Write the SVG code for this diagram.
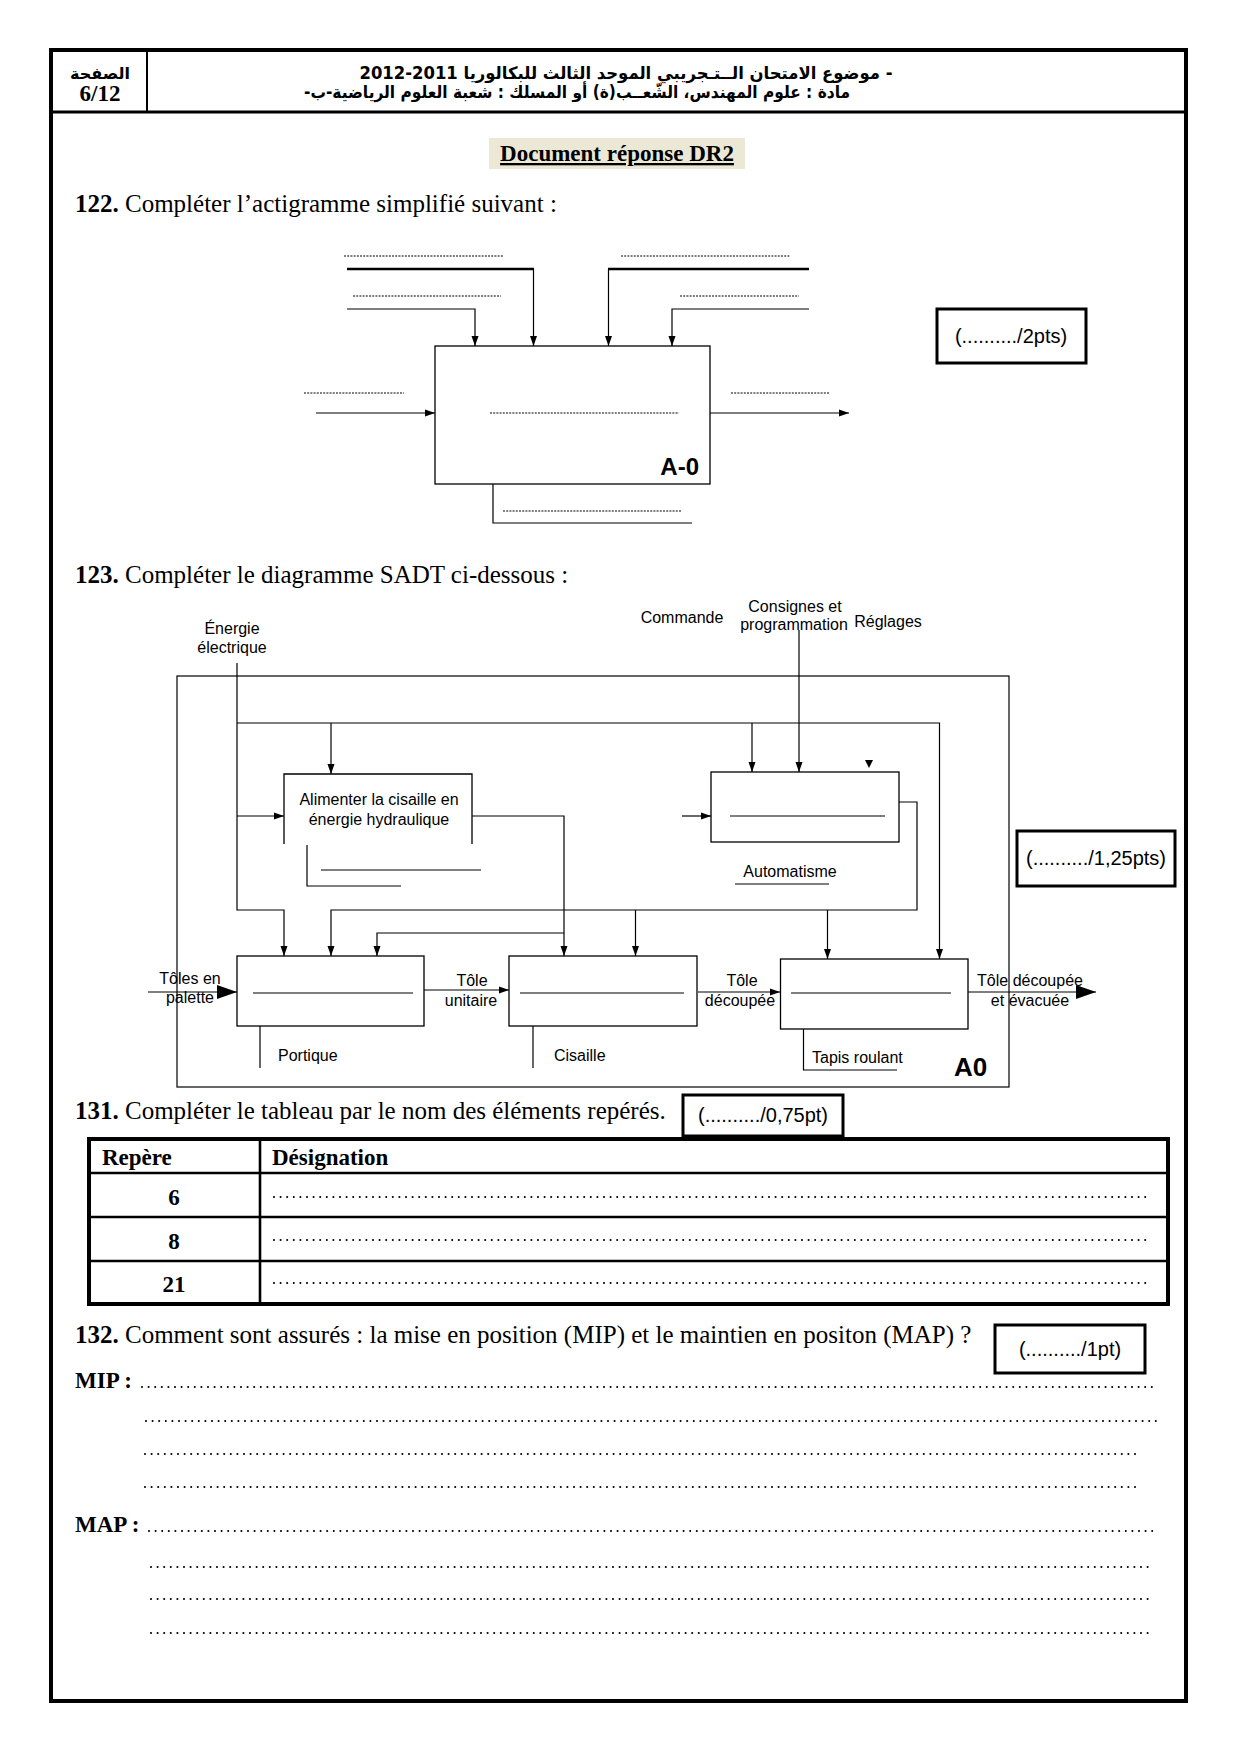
<svg xmlns="http://www.w3.org/2000/svg" width="1240" height="1754" viewBox="0 0 1240 1754">
<defs>
<style>
.ln{fill:none;stroke:#000;stroke-width:1.2}
.thk{fill:none;stroke:#000;stroke-width:2.6}
.dot{fill:none;stroke:#000;stroke-width:1;stroke-dasharray:2 1.2}
.lead{fill:none;stroke:#000;stroke-width:2.1;stroke-linecap:round;stroke-dasharray:0 6.6}
.box{fill:#fff;stroke:#000;stroke-width:1.3}
.q{font-family:"Liberation Serif","Times New Roman",serif;font-size:25px;fill:#000}
.lbl{font-family:"Liberation Sans",Arial,sans-serif;font-size:16px;fill:#000}
.sc{font-family:"Liberation Sans",Arial,sans-serif;font-size:20px;fill:#000}
.score{fill:#fff;stroke:#000;stroke-width:3}
.ar{font-family:"DejaVu Sans","Noto Sans",sans-serif;font-weight:bold;fill:#000}
.tb{font-family:"Liberation Serif","Times New Roman",serif;font-size:23px;font-weight:bold;fill:#000}
</style>
<marker id="a" markerUnits="userSpaceOnUse" markerWidth="10" markerHeight="8" refX="10" refY="4" orient="auto"><path d="M0,0.5 L10,4 L0,7.5z" fill="#000"/></marker>
<marker id="at" markerUnits="userSpaceOnUse" markerWidth="20" markerHeight="14" refX="20" refY="7" orient="auto"><path d="M0,0 L20,7 L0,14z" fill="#000"/></marker>
</defs>
<rect x="0" y="0" width="1240" height="1754" fill="#fff"/>

<g id="page-frame">
<rect x="51" y="50" width="1135" height="1651" fill="none" stroke="#000" stroke-width="4"/>
<line x1="51" y1="112" x2="1186" y2="112" stroke="#000" stroke-width="3"/>
<line x1="147" y1="50" x2="147" y2="112" stroke="#000" stroke-width="2"/>
</g>

<g id="header">
<text class="ar" x="100" y="79" font-size="16" text-anchor="middle" direction="rtl">الصفحة</text>
<text class="tb" x="100" y="101" font-size="20" text-anchor="middle">6/12</text>
<text class="ar" x="626" y="79" font-size="17" text-anchor="middle" direction="rtl" textLength="533" lengthAdjust="spacingAndGlyphs">- موضوع الامتحان الــتـجريبي الموحد الثالث للبكالوريا  2011-2012</text>
<text class="ar" x="577" y="98" font-size="17" text-anchor="middle" direction="rtl" textLength="546" lengthAdjust="spacingAndGlyphs">مادة : علوم المهندس، الشّعــب(ة) أو المسلك : شعبة العلوم الرياضية-ب-</text>
</g>

<g id="title">
<rect x="489" y="138" width="256" height="31" fill="#ebe8d6"/>
<text class="tb" x="617" y="161" font-size="25" text-anchor="middle" text-decoration="underline">Document réponse DR2</text>
</g>

<text class="q" x="75" y="212"><tspan font-weight="bold">122.</tspan> Compléter l’actigramme simplifié suivant :</text>

<g id="score-2pts">
<rect class="score" x="937" y="309" width="149" height="54"/>
<text class="sc" x="1011" y="343" text-anchor="middle">(........../2pts)</text>
</g>

<g id="actigramme-A-0">
<rect class="box" x="435" y="346" width="275" height="138"/>
<text x="699" y="475" text-anchor="end" font-family="Liberation Sans, Arial, sans-serif" font-weight="bold" font-size="24">A-0</text>
<line class="dot" x1="490" y1="413" x2="679" y2="413"/>
</g>

<g id="actigramme-connectors">
<line class="thk" x1="347" y1="269" x2="534" y2="269"/>
<path class="ln" d="M533.5,269 V346" marker-end="url(#a)"/>
<path class="ln" d="M347,309 H475 V346" marker-end="url(#a)"/>
<line class="thk" x1="608" y1="269" x2="809" y2="269"/>
<path class="ln" d="M608.5,269 V346" marker-end="url(#a)"/>
<path class="ln" d="M809,309 H672 V346" marker-end="url(#a)"/>
<path class="ln" d="M316,413 H435" marker-end="url(#a)"/>
<path class="ln" d="M710,413 H849" marker-end="url(#a)"/>
<path class="ln" d="M493,484 V523 H692"/>
<line class="dot" x1="344" y1="256" x2="503" y2="256"/>
<line class="dot" x1="353" y1="296" x2="501" y2="296"/>
<line class="dot" x1="621" y1="256" x2="790" y2="256"/>
<line class="dot" x1="680" y1="296" x2="799" y2="296"/>
<line class="dot" x1="304" y1="393" x2="404" y2="393"/>
<line class="dot" x1="731" y1="393" x2="829" y2="393"/>
<line class="dot" x1="503" y1="511" x2="681" y2="511"/>
</g>

<text class="q" x="75" y="583"><tspan font-weight="bold">123.</tspan> Compléter le diagramme SADT ci-dessous :</text>

<g id="sadt-labels">
<text class="lbl" x="232" y="634" text-anchor="middle">Énergie</text>
<text class="lbl" x="232" y="653" text-anchor="middle">électrique</text>
<text class="lbl" x="682" y="623" text-anchor="middle">Commande</text>
<text class="lbl" x="795" y="612" text-anchor="middle">Consignes et</text>
<text class="lbl" x="794" y="630" text-anchor="middle">programmation</text>
<text class="lbl" x="888" y="627" text-anchor="middle">Réglages</text>
<text class="lbl" x="190" y="984" text-anchor="middle">Tôles en</text>
<text class="lbl" x="190" y="1003" text-anchor="middle">palette</text>
<text class="lbl" x="472" y="986" text-anchor="middle">Tôle</text>
<text class="lbl" x="471" y="1006" text-anchor="middle">unitaire</text>
<text class="lbl" x="742" y="986" text-anchor="middle">Tôle</text>
<text class="lbl" x="740" y="1006" text-anchor="middle">découpée</text>
<text class="lbl" x="1030" y="986" text-anchor="middle">Tôle découpée</text>
<text class="lbl" x="1030" y="1006" text-anchor="middle">et évacuée</text>
<text class="lbl" x="278" y="1061">Portique</text>
<text class="lbl" x="554" y="1061">Cisaille</text>
<text class="lbl" x="812" y="1063">Tapis roulant</text>
<text x="954" y="1076" font-family="Liberation Sans, Arial, sans-serif" font-weight="bold" font-size="26">A0</text>
</g>

<g id="sadt-frame">
<rect x="177" y="676" width="832" height="411" fill="none" stroke="#000" stroke-width="1.2"/>
</g>

<g id="sadt-connectors">
<path class="ln" d="M237,663 V910 H284 V956" marker-end="url(#a)"/>
<path class="ln" d="M237,723 H939.5 V959" marker-end="url(#a)"/>
<path class="ln" d="M331,723 V774" marker-end="url(#a)"/>
<path class="ln" d="M752,723 V772" marker-end="url(#a)"/>
<path class="ln" d="M799,630 V772" marker-end="url(#a)"/>
<path d="M865,760 L873,760 L869,768z" fill="#000"/>
<path class="ln" d="M237,816 H284" marker-end="url(#a)"/>
<path class="ln" d="M472,816 H564 V956" marker-end="url(#a)"/>
<path class="ln" d="M564,933 H377 V956" marker-end="url(#a)"/>
<path class="ln" d="M682,816 H711" marker-end="url(#a)"/>
<path class="ln" d="M899,802 H917 V910 H331 V956" marker-end="url(#a)"/>
<path class="ln" d="M635.5,910 V956" marker-end="url(#a)"/>
<path class="ln" d="M827.5,910 V959" marker-end="url(#a)"/>
<path class="ln" d="M307,845 V886 H401"/>
<path class="ln" d="M148,992 H237" stroke-width="3.6" marker-end="url(#at)"/>
<path class="ln" d="M424,990 H509" marker-end="url(#a)"/>
<path class="ln" d="M698,992 H780" marker-end="url(#a)"/>
<path class="ln" d="M966,992 H1096" stroke-width="3.6" marker-end="url(#at)"/>
<path class="ln" d="M260,1026 V1068"/>
<path class="ln" d="M533,1026 V1068"/>
<path class="ln" d="M803.5,1029 V1070 H897"/>
</g>

<g id="box-alimenter">
<path d="M284,844 V774 H472 V844" fill="none" stroke="#000" stroke-width="1.3"/>
<text class="lbl" x="379" y="805" text-anchor="middle">Alimenter la cisaille en</text>
<text class="lbl" x="379" y="825" text-anchor="middle">énergie hydraulique</text>
<line class="ln" x1="321" y1="870" x2="481" y2="870"/>
</g>

<g id="box-automatisme">
<rect class="box" x="711" y="772" width="188" height="70"/>
<line class="ln" x1="730" y1="816" x2="885" y2="816"/>
<text class="lbl" x="790" y="877" text-anchor="middle">Automatisme</text>
<line class="ln" x1="735" y1="884" x2="829" y2="884"/>
</g>

<g id="box-portique">
<rect class="box" x="237" y="956" width="187" height="70"/>
<line class="ln" x1="253" y1="993" x2="413" y2="993"/>
</g>

<g id="box-cisaille">
<rect class="box" x="509" y="956" width="188" height="70"/>
<line class="ln" x1="520" y1="993" x2="684" y2="993"/>
</g>

<g id="box-tapis">
<rect class="box" x="780.5" y="959" width="187.5" height="70"/>
<line class="ln" x1="791" y1="993" x2="951" y2="993"/>
</g>

<g id="score-125pts">
<rect class="score" x="1017" y="831" width="158" height="55"/>
<text class="sc" x="1096" y="865" text-anchor="middle">(........../1,25pts)</text>
</g>

<text class="q" x="75" y="1119"><tspan font-weight="bold">131.</tspan> Compléter le tableau par le nom des éléments repérés.</text>

<g id="score-075pt">
<rect class="score" x="683" y="1095" width="160" height="41"/>
<text class="sc" x="763" y="1122" text-anchor="middle">(........../0,75pt)</text>
</g>

<g id="table">
<rect x="89" y="1139" width="1079" height="165" fill="none" stroke="#000" stroke-width="4"/>
<line x1="89" y1="1173" x2="1168" y2="1173" stroke="#000" stroke-width="2.6"/>
<line x1="89" y1="1217" x2="1168" y2="1217" stroke="#000" stroke-width="2.6"/>
<line x1="89" y1="1261" x2="1168" y2="1261" stroke="#000" stroke-width="2.6"/>
<line x1="260" y1="1139" x2="260" y2="1304" stroke="#000" stroke-width="2.6"/>
<text class="tb" x="102" y="1165">Repère</text>
<text class="tb" x="272" y="1165">Désignation</text>
<text class="tb" x="174" y="1205" text-anchor="middle">6</text>
<text class="tb" x="174" y="1249" text-anchor="middle">8</text>
<text class="tb" x="174" y="1292" text-anchor="middle">21</text>
<line class="lead" x1="274" y1="1197" x2="1150" y2="1197"/>
<line class="lead" x1="274" y1="1240" x2="1150" y2="1240"/>
<line class="lead" x1="274" y1="1283" x2="1150" y2="1283"/>
</g>

<text class="q" x="75" y="1343"><tspan font-weight="bold">132.</tspan> Comment sont assurés : la mise en position (MIP) et le maintien en positon (MAP) ?</text>

<g id="score-1pt">
<rect class="score" x="995" y="1325" width="150" height="48"/>
<text class="sc" x="1070" y="1356" text-anchor="middle">(........../1pt)</text>
</g>

<g id="answers">
<text class="tb" x="75" y="1388">MIP :</text>
<line class="lead" x1="142" y1="1387" x2="1152" y2="1387"/>
<line class="lead" x1="146" y1="1421" x2="1158" y2="1421"/>
<line class="lead" x1="145" y1="1454" x2="1139" y2="1454"/>
<line class="lead" x1="145" y1="1487" x2="1139" y2="1487"/>
<text class="tb" x="75" y="1532">MAP :</text>
<line class="lead" x1="149" y1="1531" x2="1157" y2="1531"/>
<line class="lead" x1="151" y1="1567" x2="1149" y2="1567"/>
<line class="lead" x1="151" y1="1599" x2="1149" y2="1599"/>
<line class="lead" x1="151" y1="1633" x2="1149" y2="1633"/>
</g>
</svg>
